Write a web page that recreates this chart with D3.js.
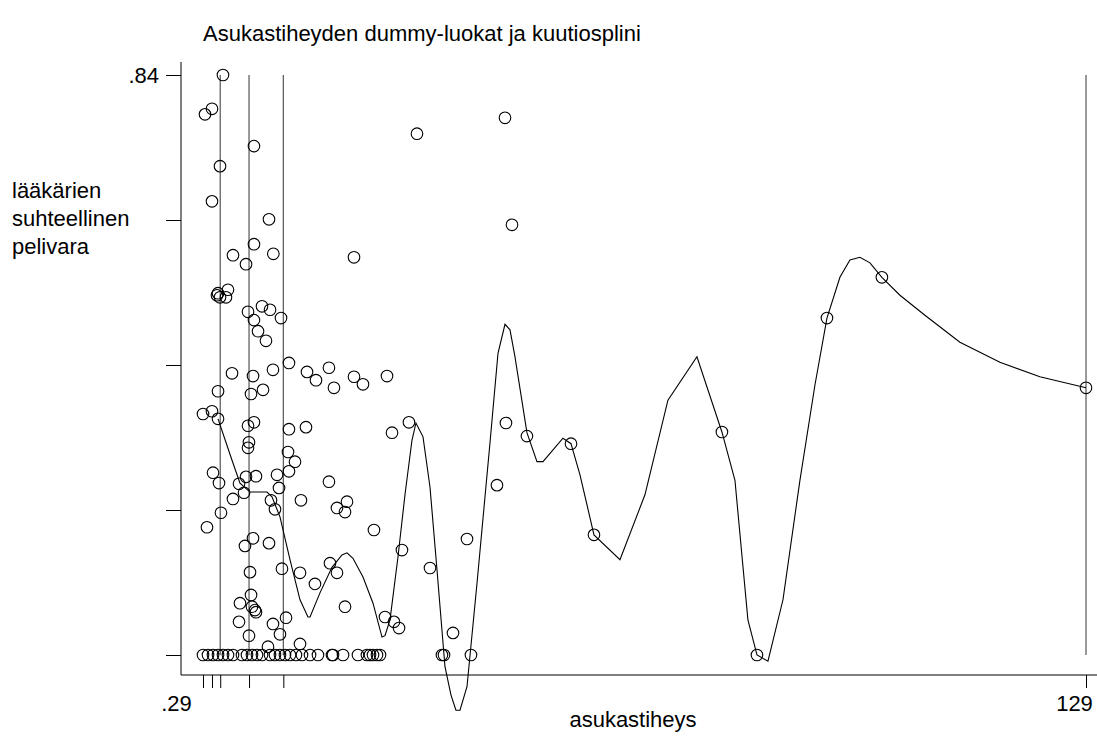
<!DOCTYPE html>
<meta charset="utf-8">

<!-- Load d3.js -->
<script src="https://d3js.org/d3.v7.min.js"></script>

<!-- Create a div where the graph will take place -->
<div id="my_dataviz"></div>
<style>
  body { margin: 0; background: #fff; }
  svg text { font-family: "Liberation Sans", Arial, sans-serif; fill: #000; }
</style>
<script>

// scatter points: asukastiheys (x) and suhteellinen pelivara (y)
var densX = [3.2, 0.58, 1.6, 7.72, 2.77, 1.6, 9.91, 7.72, 4.66, 6.56, 10.54, 31.48, 44.31, 45.33, 22.3,
  2.33, 2.77, 3.93, 3.64, 2.48, 6.85, 8.89, 10.06, 7.72, 11.66, 8.31, 9.47, 4.52, 7.58, 10.49, 12.82,
  2.48, 7.29, 9.04, 0.29, 1.6, 2.48, 7.72, 6.85, 12.82, 6.99, 6.85, 12.68, 13.7, 12.82, 1.75, 11.08,
  8.01, 6.56, 2.62, 5.54, 11.37, 6.27, 4.66, 10.2, 10.78, 14.57, 2.91, 0.87, 7.58, 6.41, 9.91, 7.14,
  11.8, 14.43, 7.29, 5.68, 7.43, 7.87, 8.01, 5.54, 10.49, 12.39, 6.99, 11.51, 18.65, 19.82, 21.28,
  20.99, 25.21, 18.8, 19.82, 16.61, 20.99, 9.76, 14.43, 26.82, 28.13, 28.86, 29.29, 15.45, 16.76,
  18.65, 19.38, 22.3, 23.61, 27.11, 15.3, 27.84, 30.31, 33.38, 38.77, 36.73, 43.14, 44.45, 47.51,
  53.93, 57.28, 75.93, 81.04, 91.24, 99.25, 129];
var pelivara = [0.84, 0.783, 0.791, 0.737, 0.708, 0.657, 0.631, 0.595, 0.579, 0.566, 0.581, 0.755, 0.778, 0.623, 0.576,
  0.521, 0.518, 0.529, 0.518, 0.524, 0.497, 0.505, 0.5, 0.485, 0.488, 0.469, 0.455, 0.408, 0.404, 0.413, 0.423,
  0.382, 0.378, 0.384, 0.349, 0.353, 0.342, 0.337, 0.332, 0.327, 0.308, 0.3, 0.294, 0.28, 0.266, 0.264, 0.261,
  0.259, 0.258, 0.249, 0.248, 0.242, 0.235, 0.226, 0.224, 0.211, 0.224, 0.206, 0.185, 0.169, 0.158, 0.162, 0.12,
  0.125, 0.119, 0.087, 0.075, 0.07, 0.065, 0.062, 0.048, 0.045, 0.054, 0.028, 0.03, 0.251, 0.213, 0.222,
  0.207, 0.181, 0.133, 0.119, 0.103, 0.07, 0.012, 0.016, 0.055, 0.048, 0.039, 0.152, 0.41, 0.398,
  0.416, 0.387, 0.403, 0.392, 0.404, 0.33, 0.322, 0.337, 0.126, 0.168, 0.032, 0.246, 0.336, 0.317,
  0.306, 0.174, 0.323, 0, 0.488, 0.547, 0.387];

// municipalities with zero pelivara
var zeroX = [0.29, 1.02, 1.75, 2.48, 3.21, 3.93, 4.66, 5.97, 6.7, 7.43, 8.16, 8.89, 10.06, 10.78, 11.51,
  12.24, 12.97, 13.84, 14.72, 15.89, 17.05, 19.09, 19.24, 20.7, 22.88, 24.19, 24.63, 25.07, 25.65,
  26.09, 35.12, 35.42, 39.35];

// cubic spline fitted values
var splineX = [2.48, 4.52, 5.68, 7.14, 9.62, 10.35, 11.51, 12.97, 14.43, 15.59, 15.89, 17.34, 19.09, 20.55,
  21.28, 22.15, 23.61, 25.07, 26.38, 26.82, 27.55, 28.71, 29.73, 30.75, 31.33, 32.36, 33.38, 34.4, 35.56,
  36.44, 37.16, 37.75, 38.77, 40.23, 42.12, 43.29, 44.31, 45.04, 45.76, 47.51, 48.97, 49.85, 52.76, 53.93,
  55.24, 57.28, 61.07, 64.71, 68.06, 72.29, 75.93, 77.83, 79.72, 81.04, 82.64, 84.83, 87.3, 89.49, 91.24,
  93.13, 94.59, 96.05, 97.51, 99.25, 101.88, 105.52, 110.62, 116.45, 122.28, 129];
var splineY = [0.342, 0.282, 0.249, 0.236, 0.236, 0.229, 0.2, 0.138, 0.08, 0.055, 0.055, 0.09, 0.127, 0.145,
  0.148, 0.14, 0.113, 0.075, 0.026, 0.028, 0.051, 0.142, 0.232, 0.311, 0.336, 0.316, 0.243, 0.123, -0.017,
  -0.058, -0.08, -0.08, -0.046, 0.104, 0.307, 0.437, 0.479, 0.471, 0.432, 0.322, 0.28, 0.28, 0.314, 0.306,
  0.261, 0.174, 0.138, 0.232, 0.369, 0.432, 0.323, 0.253, 0.051, 0, -0.009, 0.08, 0.253, 0.391, 0.488,
  0.547, 0.572, 0.576, 0.568, 0.547, 0.521, 0.492, 0.453, 0.424, 0.403, 0.387];

// dummy class limits and axis ticks
var classLimits = [2.8, 7, 12, 129];
var xTicks = [0.29, 1.6, 2.8, 7, 12, 129];
var xLabels = [0.29, 129];
var yTicks = [0, 0.21, 0.42, 0.63, 0.84];
var yLabels = [0, 0.84];

var width = 1097, height = 738;

var svg = d3.select("#my_dataviz")
  .append("svg")
    .attr("width", width)
    .attr("height", height);

var x = d3.scaleLinear().domain([0.29, 129]).range([203, 1086]);
var y = d3.scaleLinear().domain([0, 0.84]).range([655, 75]);

var fmt = function(d) { return d3.format(".2f")(d).replace(/^0\./, ".").replace(/\.00$/, ""); };

// class lines
svg.selectAll(".cl")
  .data(classLimits)
  .enter()
  .append("line")
    .attr("x1", function(d) { return x(d); })
    .attr("x2", function(d) { return x(d); })
    .attr("y1", y(0.84))
    .attr("y2", y(0))
    .attr("stroke", "#555")
    .attr("stroke-width", 1.2);

// Y axis
var yAxis = svg.append("g")
  .attr("transform", "translate(181,0)")
  .call(d3.axisLeft(y).tickValues(yTicks).tickSize(15)
    .tickFormat(function(d) { return yLabels.indexOf(d) >= 0 ? fmt(d) : ""; }));
yAxis.select(".domain").attr("d", "M0,62V675");
yAxis.selectAll("text").style("font-size", "22px").attr("x", -22).attr("dy", "0.36em");

// X axis
var xAxis = svg.append("g")
  .attr("transform", "translate(0,675)")
  .call(d3.axisBottom(x).tickValues(xTicks).tickSize(13)
    .tickFormat(function(d) { return xLabels.indexOf(d) >= 0 ? fmt(d) : ""; }));
xAxis.select(".domain").attr("d", "M181,0H1097");
xAxis.selectAll("text").style("font-size", "22px").attr("y", 20)
  .attr("dx", function(d) { return d === 0.29 ? -27 : -12; });
svg.selectAll(".domain, .tick line").attr("stroke", "#000");

// spline
svg.append("path")
  .datum(d3.zip(splineX, splineY))
  .attr("fill", "none")
  .attr("stroke", "#000")
  .attr("stroke-width", 1.1)
  .attr("d", d3.line().x(function(d) { return x(d[0]); }).y(function(d) { return y(d[1]); }));

// points
var pts = d3.zip(densX, pelivara).concat(zeroX.map(function(v) { return [v, 0]; }));
svg.selectAll("circle")
  .data(pts)
  .enter()
  .append("circle")
    .attr("cx", function(d) { return x(d[0]); })
    .attr("cy", function(d) { return y(d[1]); })
    .attr("r", 5.8)
    .attr("fill", "none")
    .attr("stroke", "#000")
    .attr("stroke-width", 1.1);

// titles
svg.append("text")
  .attr("x", 203).attr("y", 41)
  .style("font-size", "22px")
  .text("Asukastiheyden dummy-luokat ja kuutiosplini");

svg.append("text")
  .attr("x", 633).attr("y", 727)
  .attr("text-anchor", "middle")
  .style("font-size", "22px")
  .text("asukastiheys");

svg.append("text")
  .selectAll("tspan")
  .data(["lääkärien", "suhteellinen", "pelivara"])
  .enter()
  .append("tspan")
    .attr("x", 12)
    .attr("y", function(d, i) { return 198 + i * 28; })
    .style("font-size", "22px")
    .text(function(d) { return d; });

</script>
